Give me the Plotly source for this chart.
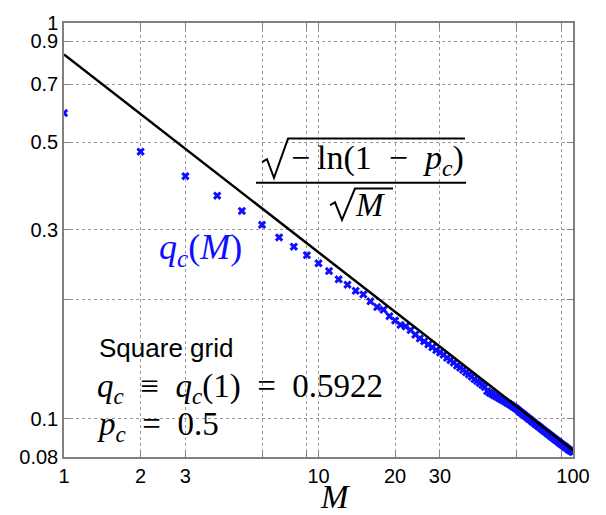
"""
Critical q_c(M) versus M on a square grid, log-log
"""

import plotly.graph_objects as go

# simulated q_c(M), M = 1..100
m_values = list(range(1, 101))
qc_values = [
    0.5922, 0.473, 0.410, 0.366, 0.335, 0.309, 0.287, 0.272, 0.259, 0.247,
    0.236, 0.225, 0.218, 0.2105, 0.206, 0.198, 0.1915, 0.1886, 0.1816, 0.177,
    0.1725, 0.171, 0.1674, 0.163, 0.1595, 0.1568, 0.1540, 0.1515, 0.1490, 0.1470,
    0.1450, 0.1425, 0.1405, 0.1385, 0.1362, 0.1345, 0.1328, 0.1310, 0.1293, 0.1277,
    0.1259, 0.1245, 0.1231, 0.1217, 0.1203, 0.1174, 0.1163, 0.1155, 0.1145, 0.1137,
    0.1129, 0.1121, 0.1113, 0.1105, 0.1097, 0.1090, 0.1082, 0.1074, 0.1067, 0.1059,
    0.1049, 0.1040, 0.1031, 0.1024, 0.1015, 0.1008, 0.0999, 0.0993, 0.0984, 0.0978,
    0.0970, 0.0964, 0.0957, 0.0951, 0.0944, 0.0938, 0.0932, 0.0926, 0.0920, 0.0914,
    0.0908, 0.0903, 0.0897, 0.0892, 0.0887, 0.0882, 0.0877, 0.0872, 0.0867, 0.0862,
    0.0858, 0.0853, 0.0849, 0.0845, 0.0840, 0.0836, 0.0832, 0.0829, 0.0826, 0.0823,
]

# sqrt(-ln(1-p_c))/sqrt(M) line, end points
line_m = [1, 100]
line_q = [0.8326, 0.08326]

x_tickvals = [1, 2, 3, 6, 9, 10, 20, 30, 60, 90, 100]
x_ticktext = ["1", "2", "3", "", "", "10", "20", "30", "", "", "100"]
y_tickvals = [0.08, 0.1, 0.2, 0.3, 0.5, 0.7, 0.9, 1]
y_ticktext = ["0.08", "0.1", "", "0.3", "0.5", "0.7", "0.9", "1"]

W, H = 606, 515
L, R, T, B = 64, 33, 14, 58
SERIF = "Liberation Serif, Times New Roman, serif"
SANS = "Liberation Sans, Arial, Helvetica, sans-serif"
SP = "\u2002"   # en space, for math-like spacing
TH = "\u2009"   # thin space


def px(x):
    return (x - L) / (W - L - R)


def py(y):
    return (H - B - y) / (H - T - B)


def path(points):
    return "M " + " L ".join(f"{px(a):.4f},{py(b):.4f}" for a, b in points)


fig = go.Figure()

fig.add_trace(go.Scatter(
    x=m_values, y=qc_values, mode="markers",
    marker=dict(symbol="x", size=7.5, color="#0f0fff", line=dict(width=0)),
    showlegend=False,
))
fig.add_trace(go.Scatter(
    x=line_m, y=line_q, mode="lines",
    line=dict(color="black", width=2.5),
    showlegend=False,
))

axis_style = dict(
    type="log",
    showline=True, linecolor="#808080", linewidth=1.5, mirror="ticks",
    ticks="inside", ticklen=6, tickcolor="#808080",
    showgrid=True, gridcolor="#9a9a9a", griddash="dot", gridwidth=1,
    zeroline=False,
    tickfont=dict(family=SANS, size=20, color="black"),
)

fig.update_xaxes(
    **axis_style, range=[0, 2],
    tickmode="array", tickvals=x_tickvals, ticktext=x_ticktext,
)
fig.update_yaxes(
    **axis_style, range=[-1.09691, 0],
    tickmode="array", tickvals=y_tickvals, ticktext=y_ticktext,
)

# fraction: sqrt(-ln(1-p_c)) / sqrt(M)
shapes = [
    dict(type="path", xref="paper", yref="paper",
         path=path([(262, 156), (267, 153), (274, 172), (288, 132), (465, 132)]),
         line=dict(color="black", width=2)),
    dict(type="line", xref="paper", yref="paper",
         x0=px(256), x1=px(466), y0=py(177), y1=py(177),
         line=dict(color="black", width=2)),
    dict(type="path", xref="paper", yref="paper",
         path=path([(330, 200), (335, 197), (342, 215), (355, 183), (393, 183)]),
         line=dict(color="black", width=2)),
]

annotations = [
    dict(x=px(289), y=py(154),
         text=f"−{TH}ln(1{SP}−{SP}<i>p</i><sub><i>c</i></sub>)",
         font=dict(family=SERIF, size=34, color="black"), xanchor="left"),
    dict(x=px(353), y=py(200), text="<i>M</i>",
         font=dict(family=SERIF, size=33, color="black"), xanchor="left"),
    dict(x=px(157), y=py(245), text="<i>q</i><sub><i>c</i></sub>(<i>M</i>)",
         font=dict(family=SERIF, size=36, color="#0f0fff"), xanchor="left"),
    dict(x=px(97), y=py(346), text="Square grid",
         font=dict(family=SANS, size=26, color="black"), xanchor="left"),
    dict(x=px(95), y=py(387),
         text=f"<i>q</i><sub><i>c</i></sub>{SP}≡{SP}<i>q</i><sub><i>c</i></sub>(1){SP}={SP}0.5922",
         font=dict(family=SERIF, size=33, color="black"), xanchor="left"),
    dict(x=px(95), y=py(426), text=f"<i>p</i><sub><i>c</i></sub>{SP}={SP}0.5",
         font=dict(family=SERIF, size=33, color="black"), xanchor="left"),
    # x axis title
    dict(x=px(335), y=py(498), text="<i>M</i>",
         font=dict(family=SERIF, size=33, color="black"), xanchor="center"),
]
for a in annotations:
    a.update(xref="paper", yref="paper", showarrow=False, yanchor="middle")

fig.update_layout(
    width=W, height=H,
    margin=dict(l=L, r=R, t=T, b=B),
    paper_bgcolor="white", plot_bgcolor="white",
    shapes=shapes, annotations=annotations,
    showlegend=False,
)

# page body has an 8px default margin; drop it so the figure fills the window
fig.write_html("out.html", config={"displayModeBar": False},
               post_script="document.body.style.margin = '0';")
